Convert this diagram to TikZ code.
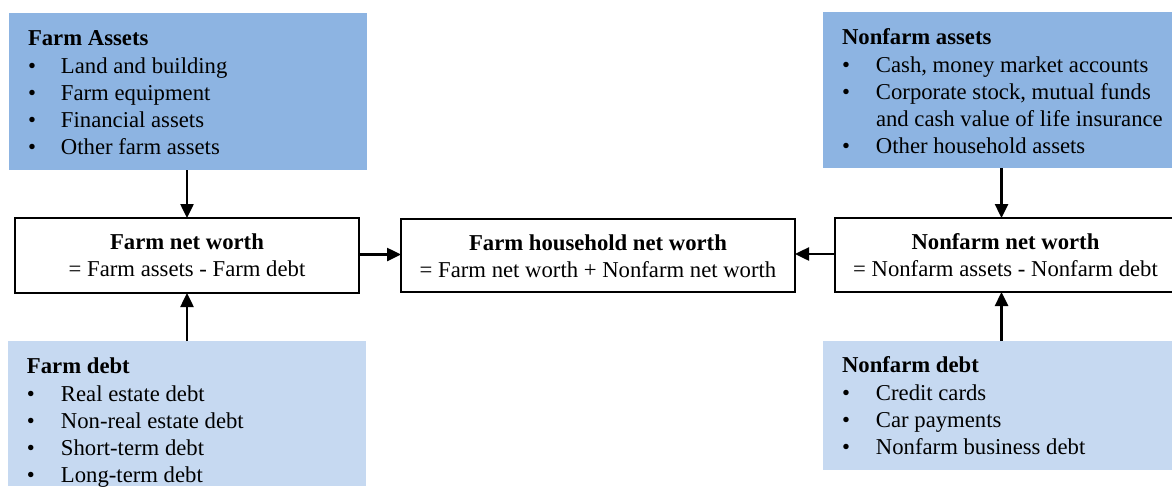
\documentclass[tikz,border=0pt]{standalone}
\usepackage{fontspec}
\setmainfont{Liberation Serif}
\usetikzlibrary{arrows.meta}
\definecolor{assetblue}{RGB}{141,180,226}
\definecolor{debtblue}{RGB}{198,217,241}
\begin{document}
\begin{tikzpicture}[x=1pt,y=-1pt,
  every node/.style={inner sep=0pt, outer sep=0pt},
  fs/.style={font=\fontsize{22.7}{27}\selectfont},
  assetbox/.style={fill=assetblue, anchor=north west},
  debtbox/.style={fill=debtblue, anchor=north west},
  worthbox/.style={draw=black, line width=1.5pt, fill=white, anchor=north west},
  totalbox/.style={draw=black, line width=2.8pt, fill=white, anchor=north west},
  listtext/.style={fs, anchor=base west, align=left},
  arr/.style={line width=2.5pt, -{Triangle[length=14pt,width=13pt]}}
]
\useasboundingbox (0,0) rectangle (1172,493);
% colored boxes
\node[assetbox, minimum width=358pt, minimum height=157pt] (FA) at (9,13) {};
\node[debtbox, minimum width=358pt, minimum height=145pt] (FD) at (8,341) {};
\node[assetbox, minimum width=360pt, minimum height=156pt] (NA) at (823,12) {};
\node[debtbox, minimum width=360pt, minimum height=129pt] (NFD) at (823,341) {};
% worth boxes
\node[worthbox, minimum width=344pt, minimum height=75pt] (FNW) at (15,218) {};
\node[totalbox, minimum width=394pt, minimum height=73pt] (TOT) at (401,219) {};
\node[worthbox, minimum width=345pt, minimum height=74pt] (NNW) at (835,218) {};
% list texts
\node[listtext] (FAt) at (28,45) {\begin{tabular}[t]{@{}p{33pt}@{}l@{}}
\multicolumn{2}{@{}l@{}}{\textbf{Farm Assets}}\\[1pt]
\textbullet & Land and building\\
\textbullet & Farm equipment\\
\textbullet & Financial assets\\
\textbullet & Other farm assets
\end{tabular}};
\node[listtext] (FDt) at (27,373) {\begin{tabular}[t]{@{}p{34pt}@{}l@{}}
\multicolumn{2}{@{}l@{}}{\textbf{Farm debt}}\\[1pt]
\textbullet & Real estate debt\\
\textbullet & Non-real estate debt\\
\textbullet & Short-term debt\\
\textbullet & Long-term debt
\end{tabular}};
\node[listtext] (NAt) at (842,44) {\begin{tabular}[t]{@{}p{34pt}@{}l@{}}
\multicolumn{2}{@{}l@{}}{\textbf{Nonfarm assets}}\\[1pt]
\textbullet & Cash, money market accounts\\
\textbullet & Corporate stock, mutual funds\\
 & and cash value of life insurance\\
\textbullet & Other household assets
\end{tabular}};
\node[listtext] (NFDt) at (842,372) {\begin{tabular}[t]{@{}p{34pt}@{}l@{}}
\multicolumn{2}{@{}l@{}}{\textbf{Nonfarm debt}}\\[1pt]
\textbullet & Credit cards\\
\textbullet & Car payments\\
\textbullet & Nonfarm business debt
\end{tabular}};
% worth texts
\node[fs, align=center] (FNWt) at (FNW.center) {\textbf{Farm net worth}\\= Farm assets - Farm debt};
\node[fs, align=center] (TOTt) at ([yshift=-0.5pt]TOT.center) {\textbf{Farm household net worth}\\= Farm net worth + Nonfarm net worth};
\node[fs, align=center] (NNWt) at ([xshift=-2pt]NNW.center) {\textbf{Nonfarm net worth}\\= Nonfarm assets - Nonfarm debt};
% arrows
\draw[arr] (FA.south -| FNW.north) -- (FNW.north);
\draw[arr] (FD.north -| FNW.south) -- (FNW.south);
\draw[arr] ([yshift=1pt]FNW.east) -- ([yshift=1pt]FNW.east -| TOT.west);
\draw[arr] ([xshift=-6pt]NA.south -| NNW.north) -- ([xshift=-6pt]NNW.north);
\draw[arr] ([xshift=-6pt]NFD.north -| NNW.south) -- ([xshift=-6pt]NNW.south);
\draw[arr] ([yshift=1pt]NNW.west) -- ([yshift=1pt]NNW.west -| TOT.east);
\end{tikzpicture}
\end{document}
